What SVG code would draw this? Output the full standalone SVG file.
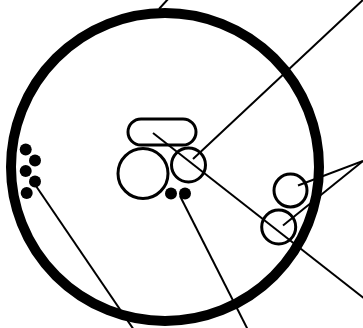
<svg xmlns="http://www.w3.org/2000/svg" width="363" height="328" viewBox="0 0 363 328">
<style>
.c{fill:none;stroke:#000;stroke-width:3}
.d{fill:#000}
.e{stroke:#000;stroke-width:2;fill:none}
</style>
<rect width="363" height="328" fill="#fff"/>
<g id="connectors">
<line class="e" x1="159" y1="9" x2="169" y2="-2"/>
<line class="e" x1="193" y1="159" x2="365" y2="-2"/>
<line class="e" x1="153" y1="133" x2="365" y2="299"/>
<line class="e" x1="298" y1="185.5" x2="363" y2="161"/>
<line class="e" x1="283" y1="225.5" x2="363" y2="161"/>
<line class="e" x1="36" y1="186" x2="134" y2="330"/>
<line class="e" x1="180" y1="196" x2="248" y2="330"/>
</g>
<g id="outer"><circle cx="165" cy="167" r="154" fill="none" stroke="#000" stroke-width="10"/></g>
<g id="pill"><rect class="c" x="128" y="119" width="68" height="26" rx="13"/></g>
<g id="bigcircle"><circle class="c" cx="143" cy="173.5" r="25"/></g>
<g id="smallcircle"><circle class="c" cx="188.5" cy="165" r="17"/></g>
<g id="dots-bottom"><circle class="d" cx="171" cy="193.5" r="6"/><circle class="d" cx="185" cy="193.5" r="6"/></g>
<g id="dots-left">
<circle class="d" cx="25.7" cy="149.5" r="6"/>
<circle class="d" cx="35" cy="160.5" r="6"/>
<circle class="d" cx="25.7" cy="171" r="6"/>
<circle class="d" cx="35" cy="181.5" r="6"/>
<circle class="d" cx="26.7" cy="193" r="6"/>
</g>
<g id="circleA"><circle class="c" cx="290.5" cy="190.5" r="16.5"/></g>
<g id="circleB"><circle class="c" cx="278.7" cy="227" r="17"/></g>
</svg>
